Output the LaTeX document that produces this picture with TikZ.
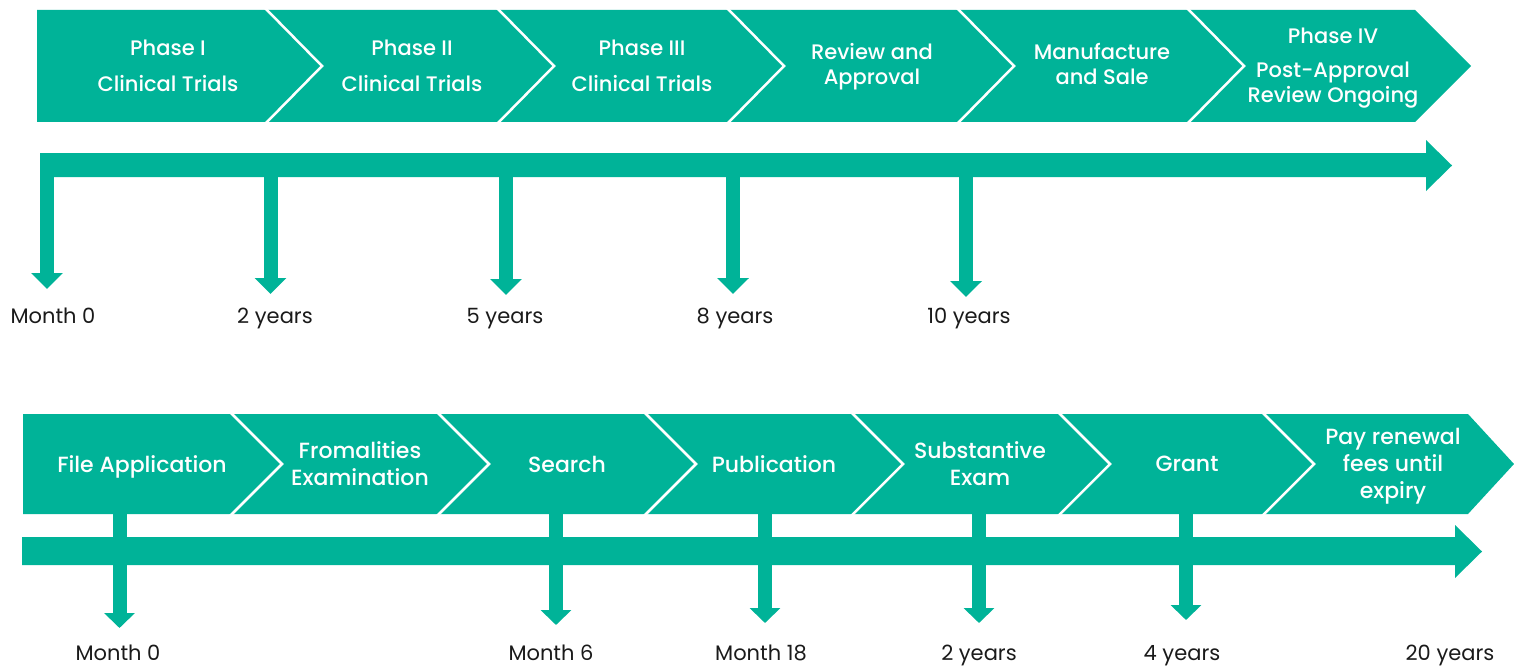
\documentclass[tikz,border=0pt]{standalone}
\usepackage{fontspec}
\setmainfont{Poppins}
\newfontfamily\medfont{Poppins}[UprightFont=* Medium]
\usetikzlibrary{arrows.meta}
\definecolor{brandteal}{HTML}{00B398}
\definecolor{labelink}{HTML}{1A1A1A}
\begin{document}
\begin{tikzpicture}[x=1pt,y=-1pt,
  band/.style={fill=brandteal},
  sep/.style={draw=white,line width=2.5pt,line join=miter},
  stagetop/.style={text=white,font=\medfont\fontsize{21}{25}\selectfont,align=center,inner sep=0pt},
  stagebot/.style={text=white,font=\medfont\fontsize{22}{27}\selectfont,align=center,inner sep=0pt},
  timelabel/.style={text=labelink,font=\fontsize{21}{25}\selectfont,inner sep=0pt,anchor=base},
  tickarrow/.style={draw=brandteal,line width=14pt,-{Triangle[width=31pt,length=16pt]}},
  tickarrowlow/.style={draw=brandteal,line width=14pt,-{Triangle[width=30pt,length=15pt]}}]
\useasboundingbox (0,0) rectangle (1514,666);

% ---------- clinical development banner ----------
\fill[band] (37,10) -- (1415,10) -- (1471,66) -- (1415,122) -- (37,122) -- cycle;
\foreach \x in {265,497,727,957,1187}
  \draw[sep] (\x,8) -- (\x+57,66) -- (\x,124);

\node[stagetop] (ph1) at (168,65.5) {Phase I\\[11pt]Clinical Trials};
\node[stagetop] (ph2) at (412,65.5) {Phase II\\[11pt]Clinical Trials};
\node[stagetop] (ph3) at (642,65.5) {Phase III\\[11pt]Clinical Trials};
\node[stagetop] (rev) at (872,67) {Review and\\Approval};
\node[stagetop] (man) at (1102,64) {Manufacture\\and Sale};
\node[stagetop] (ph4) at (1333,68.5) {Phase IV\\[9pt]Post-Approval\\Review Ongoing};

% ---------- upper time axis ----------
\fill[band] (40,153) -- (1426,153) -- (1426,140) -- (1452,165.5) -- (1426,191)
  -- (1426,177) -- (40,177) -- cycle;

\node[timelabel] (m0)  at (53,323)  {Month 0};
\node[timelabel] (y2)  at (275,323) {2 years};
\node[timelabel] (y5)  at (505,323) {5 years};
\node[timelabel] (y8)  at (735,323) {8 years};
\node[timelabel] (y10) at (969,323) {10 years};

\foreach \x/\t [count=\i] in {47/289,270.5/294,506/295,733/294,966/297}{
  \coordinate (ua\i) at (\x,165);
  \coordinate (ub\i) at (\x,\t);
  \draw[tickarrow] (ua\i) -- (ub\i);
}

% ---------- patent process banner ----------
\fill[band] (23,414) -- (1468,414) -- (1514,464) -- (1468,514) -- (23,514) -- cycle;
\foreach \x in {230,437,644,851,1058,1262}
  \draw[sep] (\x,412) -- (\x+52,464) -- (\x,516);

\node[stagebot] (fa)  at (142,466.5) {File Application};
\node[stagebot] (fe)  at (360,464)  {Fromalities\\Examination};
\node[stagebot] (se)  at (567,464)  {Search};
\node[stagebot] (pu)  at (774,464)  {Publication};
\node[stagebot] (sx)  at (980,464)  {Substantive\\Exam};
\node[stagebot] (gr)  at (1187,464) {Grant};
\node[stagebot] (pr)  at (1393,466) {Pay renewal\\fees until\\expiry};

% ---------- lower time axis ----------
\fill[band] (22,537) -- (1455,537) -- (1455,525) -- (1482,551.5) -- (1455,578)
  -- (1455,565) -- (22,565) -- cycle;

\node[timelabel] (lm0)  at (118,660)  {Month 0};
\node[timelabel] (lm6)  at (551,660)  {Month 6};
\node[timelabel] (lm18) at (761,660)  {Month 18};
\node[timelabel] (ly2)  at (979,660)  {2 years};
\node[timelabel] (ly4)  at (1182,660) {4 years};
\node[timelabel] (ly20) at (1450,660) {20 years};

\foreach \x/\t [count=\i] in {119.5/628,556/625,765/623,979/623,1186/620}{
  \coordinate (la\i) at (\x,512);
  \coordinate (lb\i) at (\x,\t);
  \draw[tickarrowlow] (la\i) -- (lb\i);
}
\end{tikzpicture}
\end{document}
